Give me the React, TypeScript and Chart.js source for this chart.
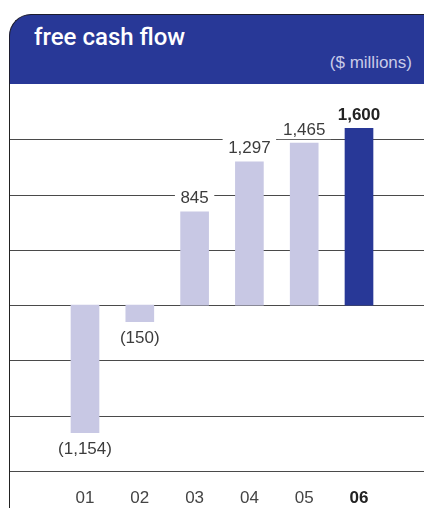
import React, { useEffect, useRef } from 'react';
import { Chart, registerables } from 'chart.js';

Chart.register(...registerables);

const categories: string[] = ['01', '02', '03', '04', '05', '06'];
const values: number[] = [-1154, -150, 845, 1297, 1465, 1600];
const gridValues: number[] = [-1500, -1000, -500, 0, 500, 1000, 1500];
const highlightIndex = 5;

const LIGHT = '#c8c8e4';
const DARK = '#283897';
const FONT = "'Liberation Sans', Arial, Helvetica, sans-serif";

function formatValue(v: number): string {
  const s = Math.abs(v).toLocaleString('en-US');
  return v < 0 ? `(${s})` : s;
}

const gridPlugin = {
  id: 'fullGrid',
  beforeDatasetsDraw(chart: any) {
    const { ctx, scales } = chart;
    const y = scales.y;
    ctx.save();
    ctx.strokeStyle = '#4a4a4a';
    ctx.lineWidth = 1.2;
    gridValues.forEach((v) => {
      const py = Math.round(y.getPixelForValue(v)) + 0.5;
      ctx.beginPath();
      ctx.moveTo(10, py);
      ctx.lineTo(chart.width, py);
      ctx.stroke();
    });
    ctx.restore();
  },
};

const labelPlugin = {
  id: 'valueLabels',
  afterDatasetsDraw(chart: any) {
    const { ctx } = chart;
    const meta = chart.getDatasetMeta(0);
    ctx.save();
    ctx.textAlign = 'center';
    ctx.textBaseline = 'middle';
    meta.data.forEach((bar: any, i: number) => {
      const v = values[i];
      const text = formatValue(v);
      const bold = i === highlightIndex;
      ctx.font = `${bold ? 'bold ' : ''}17px ${FONT}`;
      const w = ctx.measureText(text).width;
      const cy = v >= 0 ? bar.y - 14 : bar.y + 16;
      ctx.fillStyle = '#ffffff';
      ctx.fillRect(bar.x - w / 2 - 5.5, cy - 10, w + 11, 20);
      ctx.fillStyle = bold ? '#222222' : '#3c3c3c';
      ctx.fillText(text, bar.x, cy + 1);
    });
    ctx.restore();
  },
};

export default function App() {
  const canvasRef = useRef<HTMLCanvasElement | null>(null);

  useEffect(() => {
    if (!canvasRef.current) return;
    const chart = new Chart(canvasRef.current, {
      type: 'bar',
      data: {
        labels: categories,
        datasets: [
          {
            data: values,
            backgroundColor: values.map((_, i) => (i === highlightIndex ? DARK : LIGHT)),
            borderWidth: 0,
            barThickness: 28,
          },
        ],
      },
      options: {
        animation: false,
        responsive: false,
        maintainAspectRatio: false,
        devicePixelRatio: 1,
        layout: { padding: { left: 57.6, right: 37.6, top: 84, bottom: 0 } },
        plugins: {
          legend: { display: false },
          tooltip: { enabled: false },
          title: { display: false },
        },
        scales: {
          x: {
            display: true,
            grid: { display: false, drawTicks: false },
            border: { display: false },
            afterFit: (scale: any) => {
              scale.height = 37;
            },
            ticks: {
              padding: 17,
              color: (ctx: any) => (ctx.index === highlightIndex ? '#222222' : '#444444'),
              font: (ctx: any) => ({
                family: FONT,
                size: 17,
                weight: ctx.index === highlightIndex ? 'bold' : 'normal',
              }),
            },
          },
          y: {
            display: false,
            min: -1500,
            max: 2000,
          },
        },
      },
      plugins: [gridPlugin, labelPlugin],
    });
    return () => chart.destroy();
  }, []);

  return (
    <div
      style={{
        position: 'absolute',
        left: 0,
        top: 0,
        width: 424,
        height: 508,
        background: '#ffffff',
        overflow: 'hidden',
        fontFamily: FONT,
      }}
    >
      <canvas
        ref={canvasRef}
        width={424}
        height={508}
        style={{ position: 'absolute', left: 0, top: 0, width: 424, height: 508 }}
      />
      <div
        style={{
          position: 'absolute',
          left: 9,
          top: 14,
          width: 415,
          height: 70,
          boxSizing: 'border-box',
          background: DARK,
          borderTop: '1px solid #1c1c2e',
          borderLeft: '1px solid #1c1c2e',
          borderTopLeftRadius: 22,
        }}
      />
      <div
        style={{
          position: 'absolute',
          left: 9,
          top: 84,
          width: 1,
          height: 424,
          background: '#222222',
        }}
      />
      <div
        style={{
          position: 'absolute',
          left: 34,
          top: 25,
          fontSize: 24,
          lineHeight: '25px',
          fontFamily: "Roboto, 'Liberation Sans', Arial, sans-serif",
          fontWeight: 500,
          color: '#ffffff',
          whiteSpace: 'nowrap',
        }}
      >
        free cash flow
      </div>
      <div
        style={{
          position: 'absolute',
          right: 12,
          top: 54,
          fontSize: 17,
          lineHeight: '17px',
          color: '#c9cbe8',
          whiteSpace: 'nowrap',
        }}
      >
        ($ millions)
      </div>
    </div>
  );
}
